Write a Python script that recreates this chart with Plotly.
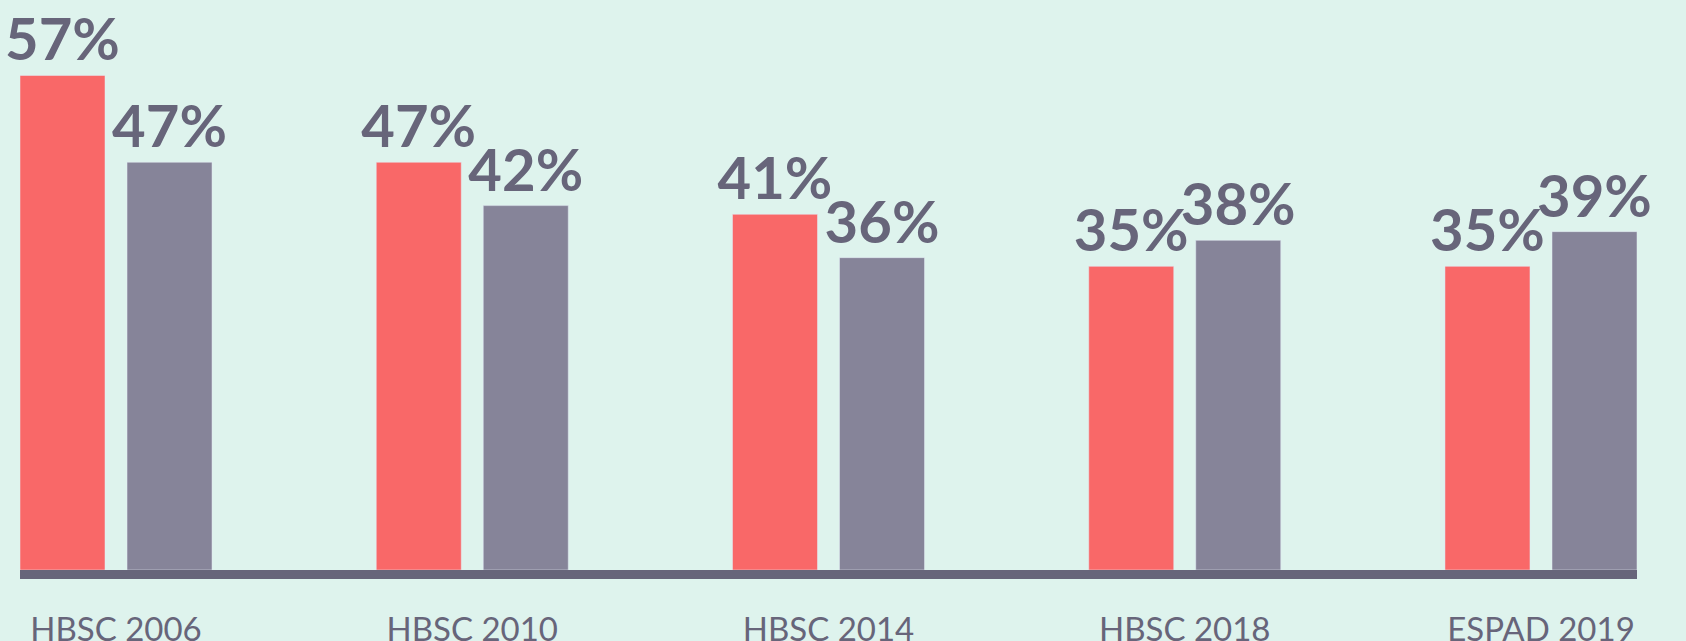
import plotly.graph_objects as go

categories = ["HBSC 2006", "HBSC 2010", "HBSC 2014", "HBSC 2018", "ESPAD 2019"]
series_a = [57, 47, 41, 35, 35]
series_b = [47, 42, 36, 38, 39]

BG = "#def3ed"
RED = "#f96868"
GREY = "#868499"
DARK = "#67657a"

x = list(range(len(categories)))
bar_w = 0.2386
label_font = dict(family="Lato", size=58, color=DARK, weight="bold")
fig = go.Figure()
fig.add_trace(go.Bar(
    x=x, y=series_a, width=bar_w, offset=-0.2695, marker_color=RED,
    text=[f"{v}%" for v in series_a], textposition="outside", cliponaxis=False,
    constraintext="none", textfont=label_font,
))
fig.add_trace(go.Bar(
    x=x, y=series_b, width=bar_w, offset=0.0309, marker_color=GREY,
    text=[f"{v}%" for v in series_b], textposition="outside", cliponaxis=False,
    constraintext="none", textfont=label_font,
))
fig.update_layout(
    width=1686, height=641, barmode="overlay", showlegend=False,
    paper_bgcolor=BG, plot_bgcolor=BG,
    margin=dict(l=20, r=49, t=0, b=71, autoexpand=False),
    xaxis=dict(range=[-0.2695, 4.2695], tickvals=x, ticktext=categories,
               automargin=False,
               showgrid=False, zeroline=False, showline=True, linewidth=9,
               linecolor=DARK, ticks="outside", ticklen=22, tickcolor=BG,
               tickfont=dict(family="Lato", size=33, color=DARK)),
    yaxis=dict(range=[0, 65.7], visible=False, showgrid=False, zeroline=False,
               automargin=False),
)
fig.write_html("out.html", config={"displayModeBar": False},
               post_script="document.body.style.margin='0';document.body.style.overflow='hidden';document.body.style.background='%s';" % BG)
